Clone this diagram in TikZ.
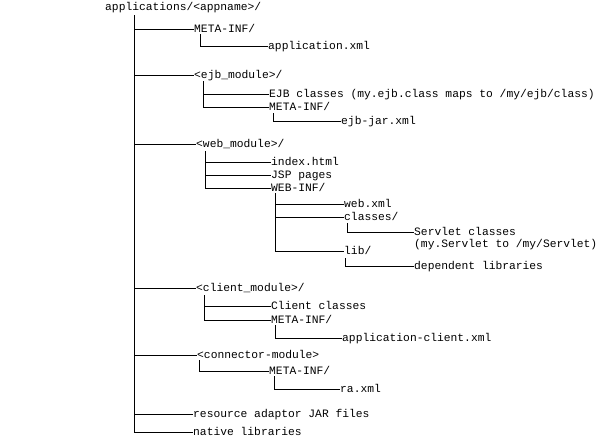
\documentclass[tikz,border=0pt]{standalone}
\usepackage{fontspec}
\setmonofont{Liberation Mono}
\begin{document}
\begin{tikzpicture}[x=1pt,y=-1pt,
  lbl/.style={anchor=west,inner sep=0pt,text height=7pt,text depth=0pt,
    font=\ttfamily\fontsize{11.3}{13}\selectfont},
  tree/.style={line width=0.8pt}]
\useasboundingbox[fill=white] (0,0) rectangle (600,440);
% nodes
\node[lbl] (root) at (105,7) {applications/<appname>/};
\node[lbl] (m1) at (194,29) {META-INF/};
\node[lbl] (app) at (268,46) {application.xml};
\node[lbl] (ejb) at (194,75) {<ejb\_module>/};
\node[lbl] (ejbc) at (269,94) {EJB classes (my.ejb.class maps to /my/ejb/class)};
\node[lbl] (ejbm) at (269,107) {META-INF/};
\node[lbl] (ejbjar) at (341,121) {ejb-jar.xml};
\node[lbl] (web) at (196,144) {<web\_module>/};
\node[lbl] (idx) at (271,162) {index.html};
\node[lbl] (jsp) at (271,175) {JSP pages};
\node[lbl] (webinf) at (271,188) {WEB-INF/};
\node[lbl] (webxml) at (344,204) {web.xml};
\node[lbl] (classes) at (344,217) {classes/};
\node[lbl] (servlet) at (414,232) {Servlet classes};
\node[lbl] (servlet2) at (414,244) {(my.Servlet to /my/Servlet)};
\node[lbl] (lib) at (344,251) {lib/};
\node[lbl] (deplib) at (414,266) {dependent libraries};
\node[lbl] (client) at (196,288) {<client\_module>/};
\node[lbl] (cc) at (271,306) {Client classes};
\node[lbl] (cm) at (271,320) {META-INF/};
\node[lbl] (acx) at (342,338) {application-client.xml};
\node[lbl] (conn) at (197,355) {<connector-module>};
\node[lbl] (connm) at (269,371) {META-INF/};
\node[lbl] (raxml) at (340,389) {ra.xml};
\node[lbl] (rajar) at (193,414) {resource adaptor JAR files};
\node[lbl] (native) at (193,432) {native libraries};
% vertical tops
\coordinate (v0) at (134,15);
\coordinate (v1) at (200,34);
\coordinate (v2) at (203,81);
\coordinate (v3) at (273,113);
\coordinate (v4) at (205,151);
\coordinate (v5) at (275,193);
\coordinate (v6) at (347,223);
\coordinate (v7) at (345,258);
\coordinate (v8) at (204,295);
\coordinate (v9) at (275,325);
\coordinate (v10) at (199,360);
\coordinate (v11) at (274,376);
% main trunk
\draw[tree] (v0) |- (native.west);
\foreach \n in {m1,ejb,web,client,conn,rajar}
  \draw[tree] (v0 |- \n.west) -- (\n.west);
% META-INF
\draw[tree] (v1) |- (app.west);
% ejb module
\draw[tree] (v2) |- (ejbm.west);
\draw[tree] (v2 |- ejbc.west) -- (ejbc.west);
\draw[tree] (v3) |- (ejbjar.west);
% web module
\draw[tree] (v4) |- (webinf.west);
\draw[tree] (v4 |- idx.west) -- (idx.west);
\draw[tree] (v4 |- jsp.west) -- (jsp.west);
\draw[tree] (v5) |- (lib.west);
\draw[tree] (v5 |- webxml.west) -- (webxml.west);
\draw[tree] (v5 |- classes.west) -- (classes.west);
\draw[tree] (v6) |- (servlet.west);
\draw[tree] (v7) |- (deplib.west);
% client module
\draw[tree] (v8) |- (cm.west);
\draw[tree] (v8 |- cc.west) -- (cc.west);
\draw[tree] (v9) |- (acx.west);
% connector module
\draw[tree] (v10) |- (connm.west);
\draw[tree] (v11) |- (raxml.west);
\end{tikzpicture}
\end{document}
